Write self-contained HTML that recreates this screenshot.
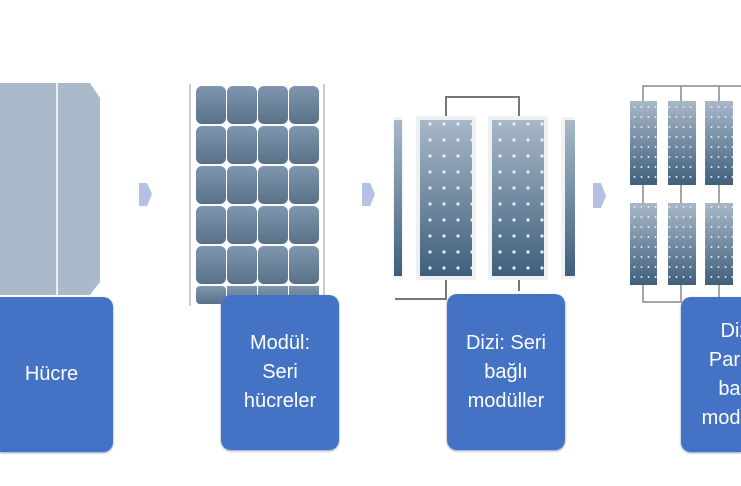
<!DOCTYPE html>
<html><head><meta charset="utf-8"><style>
html,body{margin:0;padding:0;background:#fff;width:741px;height:486px;overflow:hidden}
.b{position:absolute;background:#4472c4;border-radius:10px;color:#fff;font-family:"Liberation Sans",sans-serif;font-size:20px;line-height:29px;text-align:center;display:flex;align-items:center;justify-content:center;box-shadow:0 1px 2px #8899bb}
</style></head><body>
<svg width="741" height="486" style="position:absolute;left:0;top:0">
<defs>
<linearGradient id="pg" x1="0" y1="0" x2="0" y2="1"><stop offset="0" stop-color="#a8b8c8"/><stop offset="1" stop-color="#3f5f7c"/></linearGradient>
<linearGradient id="mg" x1="0" y1="0" x2="0" y2="1"><stop offset="0" stop-color="#7f96ae"/><stop offset="1" stop-color="#587189"/></linearGradient>
<pattern id="dots" width="14" height="16" patternUnits="userSpaceOnUse" x="3" y="4"><circle cx="7" cy="8" r="1.6" fill="#e8eef4"/></pattern>
<pattern id="dots2" width="7" height="10" patternUnits="userSpaceOnUse" x="631" y="2"><circle cx="3.5" cy="5" r="1" fill="#dfe6ee"/></pattern>
</defs>
<path d="M0 83 H90 L100 98 V282 L90 295 H0 Z" fill="#aabacb"/>
<rect x="56" y="83" width="2" height="212" fill="#e8eef3"/>
<g fill="#b4c0e4">
<path d="M139 183 H147 L152 194 L147 206 H139 Z"/>
<path d="M362 183 H370 L375 194 L370 206 H362 Z"/>
<path d="M593 183 H601 L606 196 L601 208 H593 Z"/>
</g>
<rect x="189" y="84" width="2" height="222" fill="#ccc"/>
<rect x="323" y="84" width="2" height="222" fill="#ccc"/>
<g fill="url(#mg)">
<rect x="196" y="86" width="30" height="38" rx="6"/><rect x="227" y="86" width="30" height="38" rx="6"/><rect x="258" y="86" width="30" height="38" rx="6"/><rect x="289" y="86" width="30" height="38" rx="6"/>
<rect x="196" y="126" width="30" height="38" rx="6"/><rect x="227" y="126" width="30" height="38" rx="6"/><rect x="258" y="126" width="30" height="38" rx="6"/><rect x="289" y="126" width="30" height="38" rx="6"/>
<rect x="196" y="166" width="30" height="38" rx="6"/><rect x="227" y="166" width="30" height="38" rx="6"/><rect x="258" y="166" width="30" height="38" rx="6"/><rect x="289" y="166" width="30" height="38" rx="6"/>
<rect x="196" y="206" width="30" height="38" rx="6"/><rect x="227" y="206" width="30" height="38" rx="6"/><rect x="258" y="206" width="30" height="38" rx="6"/><rect x="289" y="206" width="30" height="38" rx="6"/>
<rect x="196" y="246" width="30" height="38" rx="6"/><rect x="227" y="246" width="30" height="38" rx="6"/><rect x="258" y="246" width="30" height="38" rx="6"/><rect x="289" y="246" width="30" height="38" rx="6"/>
<rect x="196" y="286" width="30" height="18" rx="4"/><rect x="227" y="286" width="30" height="18"/><rect x="258" y="286" width="30" height="18"/><rect x="289" y="286" width="30" height="18"/>
</g>
<g fill="none" stroke="#777" stroke-width="2">
<path d="M446 117 V97 H519 V117"/>
<path d="M395 299 H446 V278"/>
<path d="M519 278 V291"/>
</g>
<rect x="393" y="117" width="10" height="162" fill="#f0f2f4"/><rect x="394" y="120" width="8" height="156" fill="url(#pg)"/>
<rect x="416" y="116" width="60" height="164" fill="#eef0f2" rx="2"/><rect x="420" y="120" width="52" height="156" fill="url(#pg)"/><rect x="420" y="120" width="52" height="156" fill="url(#dots)"/>
<rect x="488" y="116" width="60" height="164" fill="#eef0f2" rx="2"/><rect x="492" y="120" width="52" height="156" fill="url(#pg)"/><rect x="492" y="120" width="52" height="156" fill="url(#dots)"/>
<rect x="561" y="117" width="14" height="162" fill="#f0f2f4"/><rect x="565" y="120" width="10" height="156" fill="url(#pg)"/>
<g fill="none" stroke="#888" stroke-width="1.5">
<path d="M643 101 V86 H741 M681 86 V101 M719 86 V101"/>
<path d="M643 185 V203 M681 185 V203 M719 185 V203"/>
<path d="M643 285 V302 H681 V285 M719 285 V297"/>
</g>
<g fill="url(#pg)">
<rect x="630" y="101" width="27" height="84"/><rect x="668" y="101" width="28" height="84"/><rect x="705" y="101" width="28" height="84"/>
<rect x="630" y="203" width="27" height="82"/><rect x="668" y="203" width="28" height="82"/><rect x="705" y="203" width="28" height="82"/>
</g>
<g fill="url(#dots2)">
<rect x="630" y="101" width="27" height="84"/><rect x="668" y="101" width="28" height="84"/><rect x="705" y="101" width="28" height="84"/>
<rect x="630" y="203" width="27" height="82"/><rect x="668" y="203" width="28" height="82"/><rect x="705" y="203" width="28" height="82"/>
</g>
</svg>
<div class="b" style="left:0;top:297px;width:113px;height:155px;border-radius:0 10px 10px 0"><span style="margin-right:10px">Hücre</span></div>
<div class="b" style="left:221px;top:295px;width:118px;height:155px">Modül:<br>Seri<br>hücreler</div>
<div class="b" style="left:447px;top:294px;width:118px;height:156px">Dizi: Seri<br>bağlı<br>modüller</div>
<div class="b" style="left:681px;top:297px;width:60px;height:155px;border-radius:10px 0 0 10px;overflow:hidden;justify-content:flex-start"><div style="width:118px;flex:none">Dizi:<br>Paralel<br>bağlı<br>modüller</div></div>
</body></html>
